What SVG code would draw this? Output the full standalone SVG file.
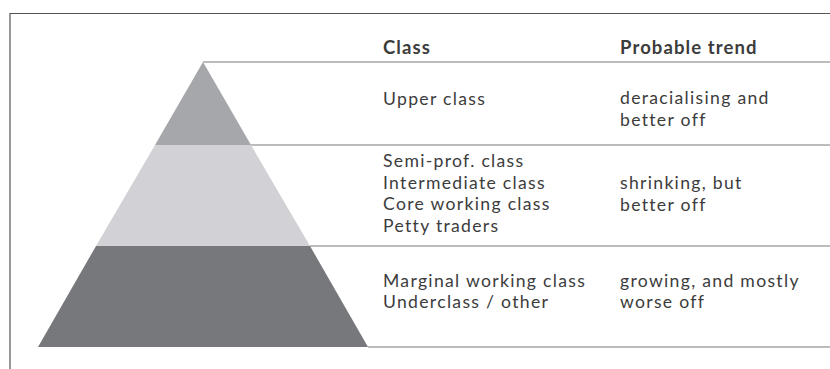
<svg xmlns="http://www.w3.org/2000/svg" width="830" height="369" viewBox="0 0 830 369">
<style>
.frame{stroke:#555;stroke-width:1.2;fill:none}
.rule{stroke:#7a7a7a;stroke-width:1.2;fill:none}
text{font-family:Lato,"Open Sans","Liberation Sans",sans-serif;fill:#3c3c3c;font-size:17.6px;letter-spacing:1.3px}
.hd{font-weight:bold;font-size:18.5px;letter-spacing:1.1px}
</style>
<rect width="830" height="369" fill="#fff"/>
<path class="frame" d="M10 369V13.5H830"/>
<g id="connectors">
<line class="rule" x1="203" y1="62" x2="830" y2="62"/>
<line class="rule" x1="251" y1="145" x2="830" y2="145"/>
<line class="rule" x1="310" y1="246" x2="830" y2="246"/>
<line class="rule" x1="368" y1="347" x2="830" y2="347"/>
</g>
<g id="header">
<text class="hd" x="383" y="54">Class</text>
<text class="hd" x="620" y="54">Probable trend</text>
</g>
<g id="tier-upper">
<polygon points="203,62 251,145 155,145" fill="#a6a7ab"/>
<text x="383" y="105">Upper class</text>
<text x="620" y="104">deracialising and</text>
<text x="620" y="125.5">better off</text>
</g>
<g id="tier-middle">
<polygon points="155,145 251,145 310,246 96,246" fill="#d2d2d6"/>
<text x="383" y="167">Semi-prof. class</text>
<text x="383" y="188.5">Intermediate class</text>
<text x="383" y="210">Core working class</text>
<text x="383" y="231.5">Petty traders</text>
<text x="620" y="189">shrinking, but</text>
<text x="620" y="210.5">better off</text>
</g>
<g id="tier-lower">
<polygon points="96,246 310,246 368,347 38,347" fill="#77787c"/>
<text x="383" y="286.5">Marginal working class</text>
<text x="383" y="308">Underclass / other</text>
<text x="620" y="286.5">growing, and mostly</text>
<text x="620" y="308">worse off</text>
</g>
</svg>
